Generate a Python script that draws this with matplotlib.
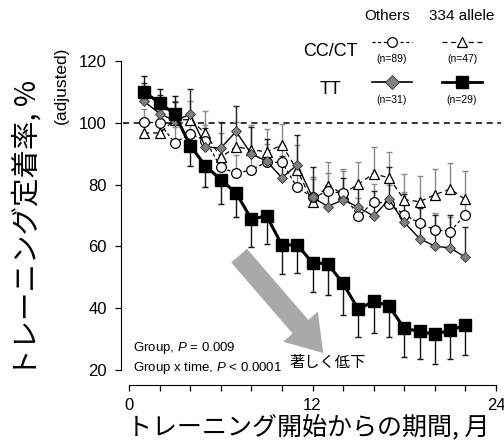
import matplotlib
matplotlib.use("Agg")
import matplotlib.pyplot as plt
from matplotlib.lines import Line2D
import numpy as np

LAT = ['Liberation Sans', 'DejaVu Sans']
JP = ['Noto Sans CJK JP', 'DejaVu Sans']
plt.rcParams['font.family'] = LAT
plt.rcParams['mathtext.fontset'] = 'custom'
plt.rcParams['mathtext.it'] = 'Liberation Sans:italic'
plt.rcParams['mathtext.rm'] = 'Liberation Sans'

months = list(range(1, 23))

# TT, 334 allele (black squares)
tt_334 = [110, 106.4, 102.8, 92.6, 86.1, 81.6, 77.3, 68.9, 69.8, 60.5, 60.5,
          54.7, 54.4, 48.0, 39.6, 42.3, 40.7, 33.5, 32.5, 31.5, 32.9, 34.5]
tt_334_err = [5.3, 4.5, 6.0, 6.7, 7.0, 7.8, 7.9, 9.1, 8.9, 9.5, 9.0,
              9.4, 10.0, 10.2, 9.0, 10.2, 10.0, 9.3, 9.0, 9.7, 9.4, 9.7]
tt_334_up = 3  # first n points have upward bars, rest downward

# TT, others (grey diamonds)
tt_oth = [106.9, 103.0, 100.6, 102.8, 92.2, 91.8, 97.2, 89.9, 87.6, 82.2, 86.4,
          75.9, 72.9, 75.1, 72.7, 69.8, 75.2, 67.8, 62.5, 60.1, 59.5, 56.5]
tt_oth_err = [6, 6, 6, 8, 6, 8.3, 8.3, 8.8, 7, 7, 9.8,
              9.9, 7, 7, 7, 8, 10.4, 9, 10, 9.9, 10.6, 9.9]

# CC/CT, others (open circles)
cc_oth = [100.4, 99.8, 93.5, 96.5, 94.2, 85.7, 83.6, 84.8, 87.3, 87.2, 79.1,
          75.9, 77.8, 77.2, 69.7, 74.5, 73.8, 70.3, 67.5, 65.4, 64.8, 70.3]
cc_oth_err = [4, 4, 5, 5, 5, 6, 6, 6, 6, 6, 6,
              6, 6, 7.3, 6, 5.6, 6, 7.2, 6, 5.3, 4.7, 5]

# CC/CT, 334 allele (open triangles)
cc_334 = [96.7, 96.7, 101.0, 101.0, 96.6, 88.8, 92.3, 91.3, 90.6, 92.8, 84.7,
          74.3, 79.7, 77.0, 80.2, 83.5, 82.2, 75.1, 74.5, 76.7, 78.6, 75.2]
cc_334_err = [5, 5, 6, 6, 7.3, 8, 8, 8, 7.5, 6.8, 8,
              8, 7.5, 8, 7.2, 8.6, 8.3, 8.2, 8.4, 8.3, 8.3, 9.1]

W, H = 504, 446
fig = plt.figure(figsize=(W / 100, H / 100), dpi=100)
ax = fig.add_axes([129 / W, 1 - 370 / H, (496 - 129) / W, (370 - 61) / H])

ax.set_xlim(0, 24)
ax.set_ylim(20, 120)
for s in ['top', 'right']:
    ax.spines[s].set_visible(False)
ax.spines['left'].set_position(('outward', 6))
ax.spines['bottom'].set_position(('outward', 11))
ax.set_xticks(np.arange(0, 25, 2))
ax.set_xticklabels(['0', '', '', '', '', '', '12', '', '', '', '', '', '24'])
ax.set_yticks([20, 40, 60, 80, 100, 120])
ax.tick_params(axis='both', direction='out', length=4, width=0.9, labelsize=12)
ax.tick_params(axis='y', pad=6)
ax.tick_params(axis='x', pad=5)

# reference line
ax.plot([-0.4, 24.3], [100, 100], ls=(0, (4, 3)), color='black', lw=1.1,
        clip_on=False, zorder=1)

m = np.array(months)
gray_bar = '#8a8a8a'

# error bars
ax.errorbar(m, cc_334, yerr=[np.zeros(len(m)), cc_334_err], fmt='none',
            ecolor=gray_bar, elinewidth=1.0, capsize=2, zorder=2)
ax.errorbar(m, cc_oth, yerr=[np.zeros(len(m)), cc_oth_err], fmt='none',
            ecolor=gray_bar, elinewidth=1.0, capsize=2, zorder=2)
ax.errorbar(m, tt_oth, yerr=[np.zeros(len(m)), tt_oth_err], fmt='none',
            ecolor='#222222', elinewidth=1.0, capsize=2, zorder=2)
e = np.array(tt_334_err)
lo = np.where(np.arange(len(m)) >= tt_334_up, e, 0)
hi = np.where(np.arange(len(m)) < tt_334_up, e, 0)
ax.errorbar(m, tt_334, yerr=[lo, hi], fmt='none',
            ecolor='#111111', elinewidth=1.0, capsize=2, zorder=2)

# series
ax.plot(m, cc_334, ls=(0, (4, 3)), color='black', lw=0.9, marker='^',
        ms=7.5, mfc='white', mec='black', mew=0.9, zorder=3)
ax.plot(m, cc_oth, ls=(0, (2.5, 2)), color='black', lw=0.9, marker='o',
        ms=7, mfc='white', mec='black', mew=0.9, zorder=4)
ax.plot(m, tt_oth, ls='-', color='black', lw=1.0, marker='D',
        ms=5.5, mfc='#7f7f7f', mec='#333333', mew=0.6, zorder=5)
ax.plot(m, tt_334, ls='-', color='black', lw=2.2, marker='s',
        ms=8.5, mfc='black', mec='black', zorder=6)

# big grey arrow
ax.annotate('', xy=(12.7, 25.5), xytext=(7.2, 57),
            arrowprops=dict(arrowstyle='simple,head_width=33,head_length=25,tail_width=15',
                            mutation_scale=1, color='#a9a9a9', shrinkA=0, shrinkB=0,
                            lw=0), zorder=1)

# texts in figure
def fx(px):
    return px / W

def fy(py):
    return 1 - py / H

fig.text(fx(308), fy(427), 'トレーニング開始からの期間, 月', family=JP, fontsize=18,
         ha='center', va='center')
fig.text(fx(28), fy(228), 'トレーニング定着率, %', family=JP, fontsize=20.5,
         rotation=90, ha='center', va='center')
fig.text(fx(61), fy(85), '(adjusted)', fontsize=12.5, rotation=90,
         ha='center', va='center')

fig.text(fx(133), fy(348), 'Group, $\\mathit{P}$ = 0.009', fontsize=9.5,
         ha='left', va='center')
fig.text(fx(133), fy(368), 'Group x time, $\\mathit{P}$ < 0.0001', fontsize=9.5,
         ha='left', va='center')
fig.text(fx(289), fy(362), '著しく低下', family=JP, fontsize=11, style='italic',
         ha='left', va='center')

# legend
fig.text(fx(387), fy(16), 'Others', fontsize=11, ha='center', va='center')
fig.text(fx(462), fy(16), '334 allele', fontsize=11, ha='center', va='center')
fig.text(fx(330), fy(51), 'CC/CT', fontsize=13, ha='center', va='center')
fig.text(fx(330), fy(90), 'TT', fontsize=13, ha='center', va='center')

def leg(x0, x1, y, **kw):
    fig.add_artist(Line2D([fx(x0), fx(x1)], [fy(y), fy(y)], transform=fig.transFigure,
                          color='black', **{k: v for k, v in kw.items() if k in ('ls', 'lw')}))
    xm = (x0 + x1) / 2
    fig.add_artist(Line2D([fx(xm)], [fy(y)], transform=fig.transFigure, ls='none',
                          **{k: v for k, v in kw.items() if k not in ('ls', 'lw')}))

leg(372, 412, 42, ls=(0, (2.5, 2)), lw=0.9, marker='o', ms=7, mfc='white', mec='black', mew=0.9)
leg(442, 482, 42, ls=(0, (4, 3)), lw=0.9, marker='^', ms=7.5, mfc='white', mec='black', mew=0.9)
leg(372, 412, 82, ls='-', lw=1.2, marker='D', ms=7, mfc='#7f7f7f', mec='#333333', mew=0.6)
leg(442, 482, 82, ls='-', lw=2.0, marker='s', ms=8.5, mfc='black', mec='black')

for (x, y, t) in [(392, 59, '(n=89)'), (462, 59, '(n=47)'),
                  (392, 100, '(n=31)'), (462, 100, '(n=29)')]:
    fig.text(fx(x), fy(y), t, fontsize=7.5, ha='center', va='center')

fig.savefig('out.png', dpi=100)
